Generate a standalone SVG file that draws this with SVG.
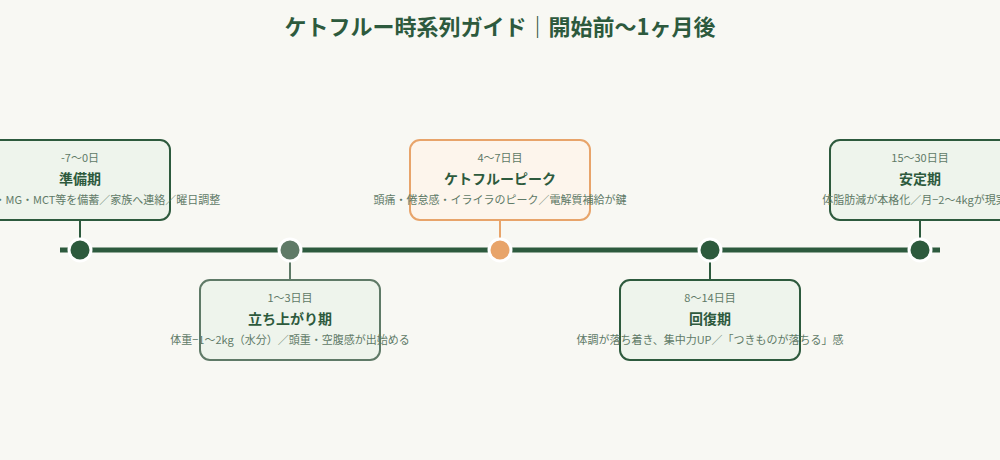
<svg xmlns="http://www.w3.org/2000/svg" width="1000" height="460" viewBox="0 0 1000 460">
<style>
text{font-family:"Noto Sans CJK JP","Noto Sans",sans-serif;text-anchor:middle}
.ttl{font-size:22px;font-weight:700;fill:#2d5a3d}
.date{font-size:11px;fill:#5f7a67}
.name{font-size:14px;font-weight:700;fill:#2d5a3d}
.desc{font-size:11px;fill:#5f7a67}
.box{fill:#eef4ec;stroke:#2d5a3d;stroke-width:2}
.box2{fill:#eef4ec;stroke:#5f7a67;stroke-width:2}
.box3{fill:#fdf5ec;stroke:#e8a46a;stroke-width:2}
.dot{stroke:#ffffff;stroke-width:3}
</style>
<rect width="1000" height="460" fill="#f8f8f3"/>
<text class="ttl" x="500" y="35">ケトフルー時系列ガイド｜開始前〜1ヶ月後</text>
<g id="connectors">
<line x1="60" y1="250" x2="940" y2="250" stroke="#2d5a3d" stroke-width="5"/>
<line x1="80" y1="220" x2="80" y2="240" stroke="#2d5a3d" stroke-width="2"/>
<line x1="290" y1="260" x2="290" y2="280" stroke="#5f7a67" stroke-width="2"/>
<line x1="500" y1="220" x2="500" y2="240" stroke="#e8a46a" stroke-width="2"/>
<line x1="710" y1="260" x2="710" y2="280" stroke="#2d5a3d" stroke-width="2"/>
<line x1="920" y1="220" x2="920" y2="240" stroke="#2d5a3d" stroke-width="2"/>
</g>
<g id="node1">
<rect class="box" x="-10" y="140" width="180" height="80" rx="10"/>
<text class="date" x="80" y="162">-7〜0日</text>
<text class="name" x="80" y="184">準備期</text>
<text class="desc" x="80" y="204">塩・にがり・MG・MCT等を備蓄／家族へ連絡／曜日調整</text>
<circle class="dot" cx="80" cy="250" r="11" fill="#2d5a3d"/>
</g>
<g id="node2">
<rect class="box2" x="200" y="280" width="180" height="80" rx="10"/>
<text class="date" x="290" y="302">1〜3日目</text>
<text class="name" x="290" y="324">立ち上がり期</text>
<text class="desc" x="290" y="344">体重−1〜2kg（水分）／頭重・空腹感が出始める</text>
<circle class="dot" cx="290" cy="250" r="11" fill="#5f7a67"/>
</g>
<g id="node3">
<rect class="box3" x="410" y="140" width="180" height="80" rx="10"/>
<text class="date" x="500" y="162">4〜7日目</text>
<text class="name" x="500" y="184">ケトフルーピーク</text>
<text class="desc" x="500" y="204">頭痛・倦怠感・イライラのピーク／電解質補給が鍵</text>
<circle class="dot" cx="500" cy="250" r="11" fill="#e8a46a"/>
</g>
<g id="node4">
<rect class="box" x="620" y="280" width="180" height="80" rx="10"/>
<text class="date" x="710" y="302">8〜14日目</text>
<text class="name" x="710" y="324">回復期</text>
<text class="desc" x="710" y="344">体調が落ち着き、集中力UP／「つきものが落ちる」感</text>
<circle class="dot" cx="710" cy="250" r="11" fill="#2d5a3d"/>
</g>
<g id="node5">
<rect class="box" x="830" y="140" width="180" height="80" rx="10"/>
<text class="date" x="920" y="162">15〜30日目</text>
<text class="name" x="920" y="184">安定期</text>
<text class="desc" x="920" y="204">体脂肪減が本格化／月−2〜4kgが現実的</text>
<circle class="dot" cx="920" cy="250" r="11" fill="#2d5a3d"/>
</g>
</svg>
